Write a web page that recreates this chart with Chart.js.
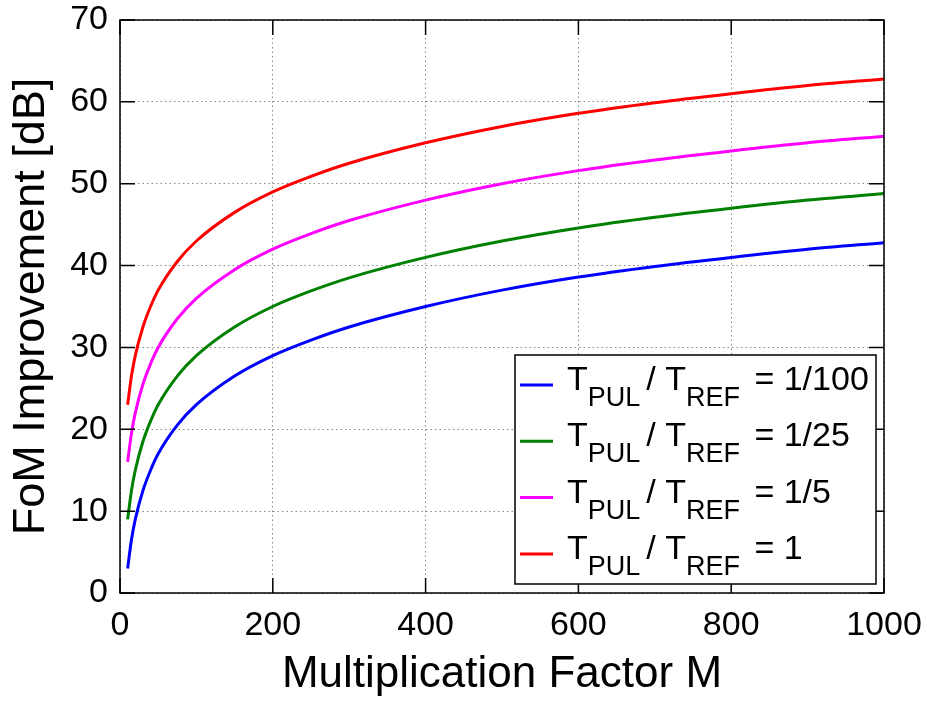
<!DOCTYPE html>
<html>
<head>
<meta charset="utf-8">
<script src="https://cdn.jsdelivr.net/npm/chart.js@4.4.1/dist/chart.umd.min.js"></script>
<style>
  html, body { margin: 0; padding: 0; background: #fff; }
  #wrap { width: 927px; height: 703px; }
</style>
</head>
<body>
<div id="wrap"><canvas id="myChart" width="927" height="703"></canvas></div>
<script>
const multFactor = [10, 15, 20, 30, 40, 50, 75, 100, 150, 200, 250, 300, 400, 500, 600, 700, 800, 900, 1000];
const fom100 = [3, 6.5, 9, 12.5, 15, 17, 20.5, 23, 26.5, 29, 30.9, 32.5, 35, 37, 38.6, 39.9, 41, 42, 42.8];
const fom25 = [9, 12.5, 15, 18.5, 21, 23, 26.5, 29, 32.5, 35, 36.9, 38.5, 41, 43, 44.6, 45.9, 47, 48, 48.8];
const fom5 = [16, 19.5, 22, 25.5, 28, 30, 33.5, 36, 39.5, 42, 43.9, 45.5, 48, 50, 51.6, 52.9, 54, 55, 55.8];
const fom1 = [23, 26.5, 29, 32.5, 35, 37, 40.5, 43, 46.5, 49, 50.9, 52.5, 55, 57, 58.6, 59.9, 61, 62, 62.8];
const ratios = ["1/100", "1/25", "1/5", "1"];
const colores = ["#0000ff", "#008000", "#ff00ff", "#ff0000"];
const xTicks = [0, 200, 400, 600, 800, 1000];
const yTicks = [0, 10, 20, 30, 40, 50, 60, 70];

const FONT = "'Liberation Sans', Arial, sans-serif";

const toPoints = (ys) => multFactor.map((m, i) => ({ x: m, y: ys[i] }));

// marco, ticks interiores y leyenda con subindices
const framePlugin = {
  id: "frame",
  afterDraw(chart) {
    const { ctx, chartArea: a, scales } = chart;
    ctx.save();
    ctx.strokeStyle = "#000";
    ctx.lineWidth = 1.5;
    ctx.strokeRect(a.left, a.top, a.right - a.left, a.bottom - a.top);
    const tl = 15;
    ctx.beginPath();
    xTicks.forEach((v) => {
      const px = scales.x.getPixelForValue(v);
      ctx.moveTo(px, a.bottom); ctx.lineTo(px, a.bottom - tl);
      ctx.moveTo(px, a.top); ctx.lineTo(px, a.top + tl);
    });
    yTicks.forEach((v) => {
      const py = scales.y.getPixelForValue(v);
      ctx.moveTo(a.left, py); ctx.lineTo(a.left + tl, py);
      ctx.moveTo(a.right, py); ctx.lineTo(a.right - tl, py);
    });
    ctx.stroke();

    // leyenda
    const bx = 515, by = 355, bw = 361, bh = 229;
    ctx.fillStyle = "#fff";
    ctx.fillRect(bx, by, bw, bh);
    ctx.lineWidth = 1.5;
    ctx.strokeRect(bx, by, bw, bh);
    ratios.forEach((r, i) => {
      const ly = 385 + i * 56.3;
      ctx.strokeStyle = colores[i];
      ctx.lineWidth = 3;
      ctx.beginPath();
      ctx.moveTo(520, ly); ctx.lineTo(553, ly);
      ctx.stroke();
      ctx.fillStyle = "#000";
      ctx.textBaseline = "alphabetic";
      ctx.textAlign = "left";
      const base = ly + 5;
      let x = 567;
      const big = "34px " + FONT, small = "27px " + FONT;
      const part = (txt, f, dy) => {
        ctx.font = f;
        ctx.fillText(txt, x, base + dy);
        x += ctx.measureText(txt).width;
      };
      part("T", big, 0);
      part("PUL", small, 16);
      x += 6;
      part("/ T", big, 0);
      part("REF", small, 16);
      x += 5;
      part(" = " + r, big, 0);
    });
    ctx.restore();
  },
};

const config = {
  type: "line",
  data: {
    datasets: [fom100, fom25, fom5, fom1].map((ys, i) => ({
      label: "T_PUL/T_REF = " + ratios[i],
      data: toPoints(ys),
      borderColor: colores[i],
      backgroundColor: colores[i],
      borderWidth: 3,
      pointRadius: 0,
      cubicInterpolationMode: "monotone",
      fill: false,
    })),
  },
  options: {
    responsive: false,
    animation: false,
    layout: { padding: { left: 0, right: 43, top: 20, bottom: 0 } },
    plugins: { legend: { display: false }, tooltip: { enabled: false } },
    scales: {
      x: {
        type: "linear",
        min: 0,
        max: 1000,
        afterBuildTicks: (s) => { s.ticks = xTicks.map((v) => ({ value: v })); },
        afterFit: (s) => { s.height = 110; s.paddingLeft = 0; s.paddingRight = 0; },
        grid: { color: "#888", lineWidth: 1, drawTicks: false },
        border: { display: false, dash: [1.5, 3] },
        ticks: {
          color: "#000",
          font: { family: FONT, size: 34 },
          padding: 12,
          maxRotation: 0,
          callback: (v) => String(v),
        },
        title: {
          display: true,
          text: "Multiplication Factor M",
          color: "#000",
          font: { family: FONT, size: 44 },
          padding: { top: 0, bottom: 2 },
        },
      },
      y: {
        min: 0,
        max: 70,
        afterBuildTicks: (s) => { s.ticks = yTicks.map((v) => ({ value: v })); },
        afterFit: (s) => { s.width = 120; s.paddingTop = 0; s.paddingBottom = 0; },
        grid: { color: "#888", lineWidth: 1, drawTicks: false },
        border: { display: false, dash: [1.5, 3] },
        ticks: { color: "#000", font: { family: FONT, size: 34 }, padding: 12 },
        title: {
          display: true,
          text: "FoM Improvement [dB]",
          color: "#000",
          font: { family: FONT, size: 45 },
          padding: { top: 5, bottom: 0 },
        },
      },
    },
  },
  plugins: [framePlugin],
};

new Chart(document.getElementById("myChart"), config);
</script>
</body>
</html>
